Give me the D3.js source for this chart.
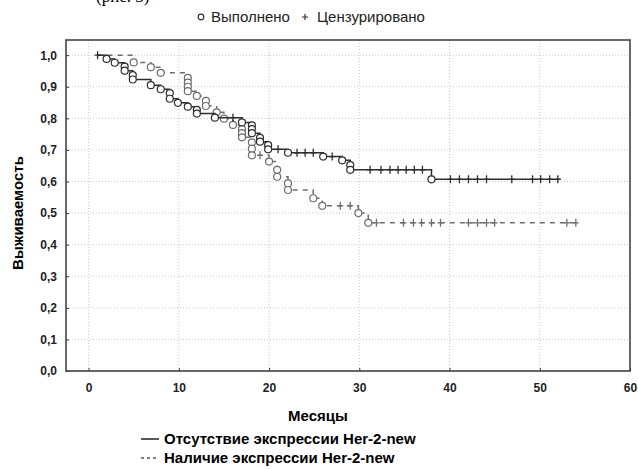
<!DOCTYPE html>
<html>
<head>
<meta charset="utf-8">
<script src="https://cdn.jsdelivr.net/npm/d3@7"></script>
<style>
  body { margin: 0; background: #fff; }
  svg { display: block; font-family: "Liberation Sans Narrow", "Liberation Sans", Arial, sans-serif; }
</style>
</head>
<body>
<svg class="js-graph" width="638" height="469"></svg>
<script>
(function kmChart(d3) {
  /* <DATA> */
  // group without Her-2-new expression (solid line)
  var noExprEventTimes = [2.0, 2.9, 4.0, 4.0, 4.9, 4.9, 6.9, 8.0, 9.0, 9.0, 9.9, 11.0, 12.0, 12.0, 14.0,
    17.0, 18.1, 18.1, 18.1, 19.0, 19.0, 19.9, 19.9, 22.1, 26.0, 28.1, 29.0, 29.0, 38.0];
  var noExprEventSurv = [0.988, 0.976, 0.964, 0.951, 0.937, 0.923, 0.905, 0.892, 0.88, 0.862, 0.849, 0.837, 0.827, 0.815, 0.802,
    0.787, 0.778, 0.766, 0.753, 0.738, 0.726, 0.715, 0.702, 0.691, 0.679, 0.667, 0.652, 0.637, 0.607];
  var noExprCensored = [1.0, 16.0, 21.0, 23.1, 24.0, 24.9, 27.0, 31.2, 32.4, 33.4, 34.3, 35.2, 36.1, 37.0,
    40.1, 41.1, 42.1, 43.1, 44.1, 46.9, 49.2, 50.1, 51.1, 52.0];
  var noExprEnd = 52.3;

  // group with Her-2-new expression (dashed line)
  var exprEventTimes = [5.0, 6.9, 8.0, 11.0, 11.0, 11.0, 11.0, 12.0, 13.0, 13.0, 14.2, 15.0, 16.0, 17.0, 17.0, 17.0,
    18.1, 18.1, 18.1, 20.0, 20.9, 20.9, 22.1, 22.1, 24.9, 25.9, 29.9, 31.0];
  var exprEventSurv = [0.977, 0.962, 0.944, 0.928, 0.913, 0.9, 0.886, 0.871, 0.855, 0.839, 0.819, 0.799, 0.779, 0.766, 0.753, 0.74,
    0.724, 0.704, 0.683, 0.663, 0.637, 0.615, 0.594, 0.573, 0.547, 0.523, 0.5, 0.469];
  var exprCensored = [19.0, 27.9, 29.0, 31.9, 34.9, 36.0, 36.9, 38.0, 39.0, 42.1, 43.1, 44.1, 45.0, 53.0, 54.0];
  var exprEnd = 54.2;

  var xTicks = [0, 10, 20, 30, 40, 50, 60];
  var yTicks = [0, 0.1, 0.2, 0.3, 0.4, 0.5, 0.6, 0.7, 0.8, 0.9, 1.0];
  var markerLabels = ['Выполнено', 'Цензурировано'];
  var groupLabels = ['Отсутствие экспрессии Her-2-new', 'Наличие экспрессии Her-2-new'];
  var xTitle = 'Месяцы';
  var yTitle = 'Выживаемость';
  /* </DATA> */

  var svg = d3.select('.js-graph');
  var frame = { left: 66, right: 630, top: 40, bottom: 371 };

  var xScale = d3.scaleLinear().domain([-2.5, 60]).range([frame.left, frame.right]);
  var yScale = d3.scaleLinear().domain([0, 1.048]).range([frame.bottom, frame.top]);
  var fmt = function (v) { return d3.format('.1f')(v).replace('.', ','); };

  // caption of the page above the figure, mostly cropped off like in the scan
  svg.append('text')
    .attr('x', 96).attr('y', 2)
    .style('font-family', '"Liberation Serif", serif')
    .style('font-size', '17px')
    .text('(рис. 3)');

  // grid
  var grid = svg.append('g').attr('class', 'grid');
  grid.selectAll('line.gx').data(xTicks).enter().append('line')
    .attr('x1', xScale).attr('x2', xScale)
    .attr('y1', frame.top).attr('y2', frame.bottom)
    .attr('stroke', '#c8c8c8').attr('stroke-dasharray', '1,2');
  grid.selectAll('line.gy').data(yTicks).enter().append('line')
    .attr('x1', frame.left).attr('x2', frame.right)
    .attr('y1', yScale).attr('y2', yScale)
    .attr('stroke', '#c8c8c8').attr('stroke-dasharray', '1,2');

  // axes
  var xAxis = svg.append('g')
    .attr('transform', 'translate(0,' + frame.bottom + ')')
    .call(d3.axisBottom(xScale).tickValues(xTicks).tickSize(-3).tickPadding(12));
  var yAxis = svg.append('g')
    .attr('transform', 'translate(' + frame.left + ',0)')
    .call(d3.axisLeft(yScale).tickValues(yTicks).tickSize(-3).tickPadding(9).tickFormat(fmt));
  [xAxis, yAxis].forEach(function (ax) {
    ax.select('.domain').remove();
    ax.selectAll('line').attr('stroke', '#333');
    ax.selectAll('text')
      .attr('fill', '#222')
      .style('font-family', '"Liberation Sans", Arial, sans-serif')
      .style('font-size', '12px')
      .style('font-weight', 'bold');
  });

  svg.append('rect')
    .attr('x', frame.left).attr('y', frame.top)
    .attr('width', frame.right - frame.left).attr('height', frame.bottom - frame.top)
    .attr('fill', 'none').attr('stroke', '#444').attr('stroke-width', 1.6);

  /* <KAPLAN-MEIER CURVES> */
  function stepPoints(times, surv, endTime) {
    var pts = [[1.0, 1.0]];
    var level = 1.0;
    times.forEach(function (t, i) {
      pts.push([t, level]);
      level = surv[i];
      pts.push([t, level]);
    });
    pts.push([endTime, level]);
    return pts;
  }

  function levelAt(times, surv, t) {
    var level = 1.0;
    times.forEach(function (et, i) { if (et <= t) { level = surv[i]; } });
    return level;
  }

  function drawCurve(params) {
    var g = svg.append('g');
    var line = d3.line()
      .x(function (p) { return xScale(p[0]); })
      .y(function (p) { return yScale(p[1]); });

    g.append('path')
      .attr('d', line(stepPoints(params.times, params.surv, params.end)))
      .attr('fill', 'none')
      .attr('stroke', params.color)
      .attr('stroke-width', 1.5)
      .attr('stroke-dasharray', params.dash || null);

    g.selectAll('path.cens').data(params.censored).enter().append('path')
      .attr('d', function (t) {
        var cx = xScale(t);
        var cy = yScale(levelAt(params.times, params.surv, t));
        return 'M' + (cx - 3) + ',' + cy + 'H' + (cx + 3) + 'M' + cx + ',' + (cy - 4) + 'V' + (cy + 4);
      })
      .attr('stroke', params.color)
      .attr('stroke-width', 1.3);

    g.selectAll('circle').data(params.times).enter().append('circle')
      .attr('cx', function (t) { return xScale(t); })
      .attr('cy', function (t, i) { return yScale(params.surv[i]); })
      .attr('r', 3.5)
      .attr('fill', '#fff')
      .attr('stroke', params.color)
      .attr('stroke-width', 1.2);
  }

  drawCurve({ times: exprEventTimes, surv: exprEventSurv, censored: exprCensored, end: exprEnd,
    color: '#6e6e6e', dash: '5,5' });
  drawCurve({ times: noExprEventTimes, surv: noExprEventSurv, censored: noExprCensored, end: noExprEnd,
    color: '#2e2e2e' });
  /* </KAPLAN-MEIER CURVES> */

  // marker legend on top
  var top = svg.append('g').style('font-size', '15px').attr('fill', '#222');
  top.append('circle').attr('cx', 201).attr('cy', 17).attr('r', 2.8)
    .attr('fill', '#fff').attr('stroke', '#333').attr('stroke-width', 1.2);
  top.append('text').attr('x', 211).attr('y', 22).text(markerLabels[0]);
  top.append('path').attr('d', 'M302,17H308M305,14V20').attr('stroke', '#333').attr('stroke-width', 1.2);
  top.append('text').attr('x', 317).attr('y', 22).text(markerLabels[1]);

  // axis titles
  svg.append('text')
    .attr('x', 318).attr('y', 421)
    .attr('text-anchor', 'middle')
    .style('font-size', '15px').style('font-weight', 'bold')
    .text(xTitle);
  svg.append('text')
    .attr('transform', 'translate(23,213) rotate(-90)')
    .attr('text-anchor', 'middle')
    .style('font-size', '15px').style('font-weight', 'bold')
    .text(yTitle);

  // group legend at bottom
  var bottom = svg.append('g').style('font-size', '15px').style('font-weight', 'bold');
  groupLabels.forEach(function (label, i) {
    var y = 439 + i * 19;
    bottom.append('line')
      .attr('x1', 141).attr('x2', 159).attr('y1', y).attr('y2', y)
      .attr('stroke', i ? '#555' : '#222').attr('stroke-width', 1.5)
      .attr('stroke-dasharray', i ? '3,3' : null);
    bottom.append('text').attr('x', 164).attr('y', y + 5).text(label);
  });
}(d3));
</script>
</body>
</html>
